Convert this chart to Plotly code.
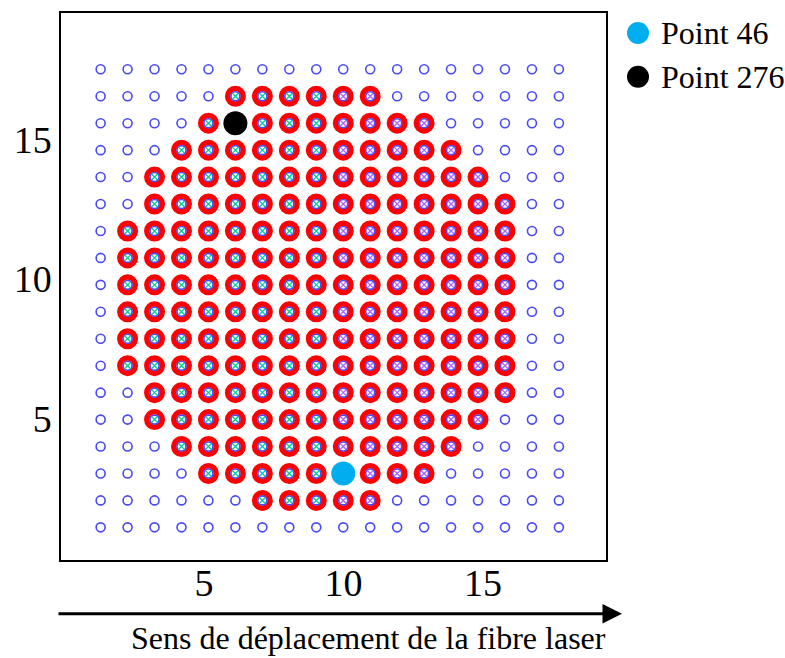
import plotly.graph_objects as go

# Measurement grid: 18 x 18 points, spacing in mm
n_cols = 18
n_rows = 18
x_start = 1.3
y_start = 1.1
step = 0.966

# For each row (bottom to top): first and last column index of the heated zone
row_first = [None, 6, 4, 3, 2, 2, 1, 1, 1, 1, 1, 1, 2, 2, 3, 4, 5, None]
row_last = [None, 10, 12, 13, 14, 15, 15, 15, 15, 15, 15, 15, 15, 14, 13, 12, 10, None]

# Columns from this index onward get a black cross, before it a red cross
cross_split_col = 9

# Highlighted points (1-based index, row-major from the bottom-left corner)
highlight_names = ["Point 46", "Point 276"]
highlight_index = [46, 276]
highlight_colors = ["#00AEEF", "#000000"]

x_ticks = [5, 10, 15]
y_ticks = [5, 10, 15]

serif = "Liberation Serif"

# Figure geometry (pixels)
W, H = 785, 658
M_L, M_R, M_T, M_B = 61, 179, 11, 98
plot_w = W - M_L - M_R
plot_h = H - M_T - M_B


def px_to_paper(px, py):
    return (px - M_L) / plot_w, (H - M_B - py) / plot_h


grid_x, grid_y = [], []
heat_x, heat_y = [], []
red_cross_x, red_cross_y = [], []
black_cross_x, black_cross_y = [], []
for r in range(n_rows):
    for c in range(n_cols):
        x = x_start + c * step
        y = y_start + r * step
        grid_x.append(x)
        grid_y.append(y)
        if row_first[r] is not None and row_first[r] <= c <= row_last[r]:
            heat_x.append(x)
            heat_y.append(y)
            if c < cross_split_col:
                red_cross_x.append(x)
                red_cross_y.append(y)
            else:
                black_cross_x.append(x)
                black_cross_y.append(y)

fig = go.Figure()

# Heated zone: thick red rings
fig.add_trace(go.Scatter(
    x=heat_x, y=heat_y, mode="markers", showlegend=False, hoverinfo="skip",
    marker=dict(symbol="circle-open", size=15.5, color="#FF0000",
                line=dict(width=5.5, color="#FF0000")),
))

# All measurement points: small blue rings
fig.add_trace(go.Scatter(
    x=grid_x, y=grid_y, mode="markers", showlegend=False, hoverinfo="skip",
    marker=dict(symbol="circle-open", size=9, color="#4A4AF5",
                line=dict(width=1.6, color="#4A4AF5")),
))

# Crosses inside the heated points
fig.add_trace(go.Scatter(
    x=red_cross_x, y=red_cross_y, mode="markers", showlegend=False, hoverinfo="skip",
    marker=dict(symbol="x-thin-open", size=6, line=dict(width=1.3, color="#FF2020")),
))
fig.add_trace(go.Scatter(
    x=black_cross_x, y=black_cross_y, mode="markers", showlegend=False, hoverinfo="skip",
    marker=dict(symbol="x-thin-open", size=6, line=dict(width=1.3, color="#202020")),
))

# Highlighted points, with a key to the right of the frame
key_px_x, key_text_px_x = 638, 659
key_px_y = [31, 75]
for name, idx, col, ky in zip(highlight_names, highlight_index, highlight_colors, key_px_y):
    fig.add_trace(go.Scatter(
        x=[grid_x[idx - 1]], y=[grid_y[idx - 1]], mode="markers", name=name,
        showlegend=False, marker=dict(symbol="circle", size=24, color=col),
    ))
    kx, kyp = px_to_paper(key_px_x, ky)
    fig.add_shape(
        type="circle", xref="paper", yref="paper", xsizemode="pixel", ysizemode="pixel",
        xanchor=kx, yanchor=kyp, x0=-11, x1=11, y0=-11, y1=11,
        fillcolor=col, line=dict(width=0), layer="above",
    )
    tx, _ = px_to_paper(key_text_px_x, ky)
    fig.add_annotation(
        xref="paper", yref="paper", x=tx, y=kyp, xanchor="left", yanchor="middle",
        text=name, showarrow=False, font=dict(family=serif, size=32, color="#000000"),
    )

# Direction of travel of the laser fibre
ax_x, ax_y = px_to_paper(622, 614)
fig.add_annotation(
    xref="paper", yref="paper", x=ax_x, y=ax_y, ax=-565, ay=0,
    axref="pixel", ayref="pixel", text="", showarrow=True,
    arrowhead=2, arrowsize=1.3, arrowwidth=3, arrowcolor="#000000",
)
lx, ly = px_to_paper(368, 638)
fig.add_annotation(
    xref="paper", yref="paper", x=lx, y=ly, yanchor="middle", xanchor="center",
    text="Sens de déplacement de la fibre laser", showarrow=False,
    font=dict(family=serif, size=32, color="#000000"),
)

axis_common = dict(
    showgrid=False, zeroline=False, showline=True, linecolor="#000000",
    linewidth=1.5, mirror=True, ticks="", tickfont=dict(family=serif, size=38, color="#000000"),
)
fig.update_xaxes(range=[-0.12, 19.41], tickvals=x_ticks, ticklabelstandoff=-11, **axis_common)
fig.update_yaxes(range=[-0.07, 19.54], tickvals=y_ticks, ticklabelstandoff=0, **axis_common)

fig.update_layout(
    width=W, height=H,
    margin=dict(l=M_L, r=M_R, t=M_T, b=M_B),
    plot_bgcolor="#FFFFFF", paper_bgcolor="#FFFFFF",
    font=dict(family=serif, color="#000000"),
    showlegend=False,
)

fig.write_html("out.html")
